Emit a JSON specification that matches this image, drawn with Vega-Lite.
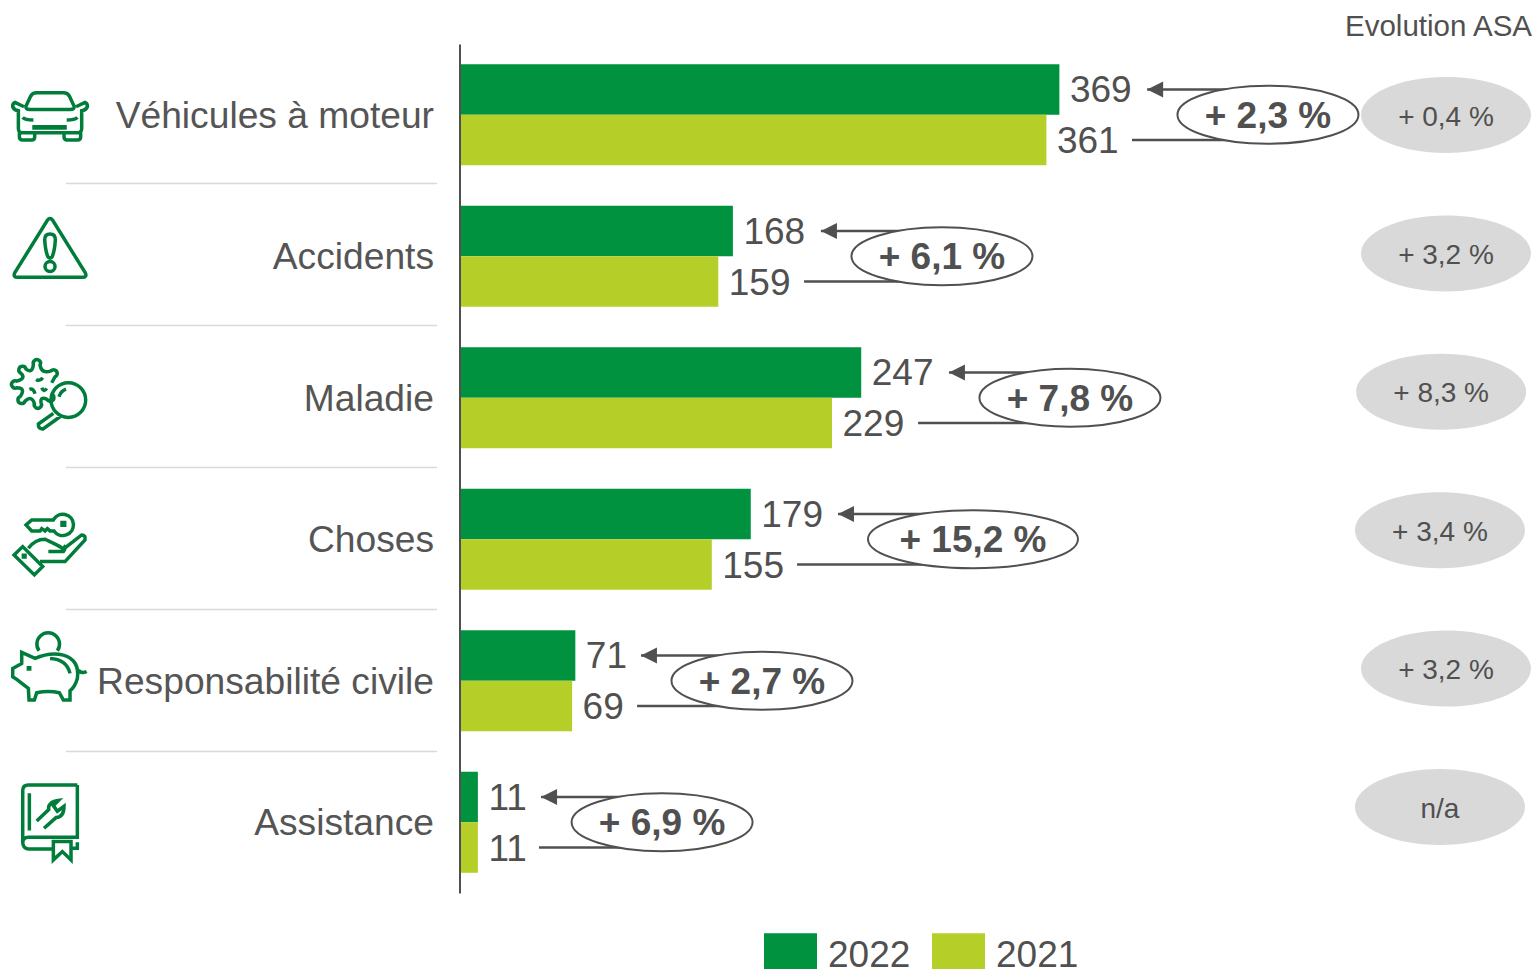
{
"$schema":"https://vega.github.io/schema/vega-lite/v6.json",
"width":1535,"height":969,"padding":0,"autosize":{"type":"none"},"background":"white",
"title":{"text":"Evolution ASA","anchor":"end","frame":"group","orient":"top","offset":-42,"dx":-3,"fontSize":29.5,"fontWeight":"normal","font":"Liberation Sans","color":"#505050"},
"config":{"view":{"stroke":null},"font":"Liberation Sans"},
"datasets":{
"bars":[
{"cat":"Véhicules à moteur","year":"2022","value":369,"lineStart":423,"bubble":497.4},
{"cat":"Véhicules à moteur","year":"2021","value":361,"lineStart":413.7,"bubble":497.4},
{"cat":"Accidents","year":"2022","value":168,"lineStart":222.2,"bubble":296.7},
{"cat":"Accidents","year":"2021","value":159,"lineStart":211.8,"bubble":296.7},
{"cat":"Maladie","year":"2022","value":247,"lineStart":301,"bubble":375.5},
{"cat":"Maladie","year":"2021","value":229,"lineStart":282,"bubble":375.5},
{"cat":"Choses","year":"2022","value":179,"lineStart":232.7,"bubble":315.8},
{"cat":"Choses","year":"2021","value":155,"lineStart":207.5,"bubble":315.8},
{"cat":"Responsabilité civile","year":"2022","value":71,"lineStart":111.4,"bubble":185.9},
{"cat":"Responsabilité civile","year":"2021","value":69,"lineStart":109,"bubble":185.9},
{"cat":"Assistance","year":"2022","value":11,"lineStart":49.9,"bubble":124.4},
{"cat":"Assistance","year":"2021","value":11,"lineStart":48.6,"bubble":124.4}
],
"rows":[
{"cat":"Véhicules à moteur","change":"+ 2,3 %","bubble":497.4,"asa":"+ 0,4 %","asaPos":607,"icon":-252.4},
{"cat":"Accidents","change":"+ 6,1 %","bubble":296.7,"asa":"+ 3,2 %","asaPos":607,"icon":-252.4},
{"cat":"Maladie","change":"+ 7,8 %","bubble":375.5,"asa":"+ 8,3 %","asaPos":604,"icon":-252.4},
{"cat":"Choses","change":"+ 15,2 %","bubble":315.8,"asa":"+ 3,4 %","asaPos":603.3,"icon":-252.4},
{"cat":"Responsabilité civile","change":"+ 2,7 %","bubble":185.9,"asa":"+ 3,2 %","asaPos":607,"icon":-252.4},
{"cat":"Assistance","change":"+ 6,9 %","bubble":124.4,"asa":"n/a","asaPos":603.3,"icon":-252.4}
],
"seps":[{"after":"a","from":-242.6,"to":-14.2},{"after":"b","from":-242.6,"to":-14.2},{"after":"c","from":-242.6,"to":-14.2},{"after":"d","from":-242.6,"to":-14.2},{"after":"e","from":-242.6,"to":-14.2}]
},
"resolve":{"scale":{"y":"independent","shape":"independent"},"axis":{"y":"independent"}},
"layer":[
{"data":{"name":"seps"},"mark":{"type":"rule","stroke":"#d9d9d9","strokeWidth":1.5},
 "encoding":{"x":{"field":"from","type":"quantitative","scale":{"domain":[-283.2,661.8],"nice":false,"zero":false},"axis":null},"x2":{"field":"to"},
 "y":{"field":"after","type":"nominal","sort":null,"scale":{"type":"point","domain":["a","b","c","d","e"],"range":[183.5,751.5],"padding":0},"axis":null}}},
{"data":{"name":"bars"},"mark":{"type":"bar"},
 "encoding":{"x":{"field":"value","type":"quantitative","scale":{"domain":[-283.2,661.8],"nice":false,"zero":false},"axis":null},
 "y":{"field":"cat","type":"nominal","sort":null,"scale":{"domain":["Véhicules à moteur","Accidents","Maladie","Choses","Responsabilité civile","Assistance"],"range":[44,893],"paddingInner":0,"paddingOuter":0},
   "axis":{"title":null,"orient":"left","offset":-459.5,"ticks":false,"labelPadding":26,"labelOffset":2,"labelFontSize":37.2,"labelColor":"#555555","labelLimit":600,"labelFont":"Liberation Sans","domainColor":"#505050","domainWidth":2,"grid":false,"zindex":1}},
 "yOffset":{"field":"year","type":"nominal","sort":null,"scale":{"domain":["2022","2021"],"paddingInner":0,"paddingOuter":0.4}},
 "color":{"field":"year","type":"nominal","sort":null,"scale":{"domain":["2022","2021"],"range":["#00923f","#b5cf28"]},
   "legend":{"title":null,"orient":"none","legendX":764,"legendY":929.5,"direction":"horizontal","columns":2,"symbolType":"M-1,-0.87H1V0.49H-1Z","symbolSize":2809,"symbolStrokeWidth":0,"symbolOpacity":1,"labelFontSize":37,"labelColor":"#505050","labelFont":"Liberation Sans","labelOffset":11,"columnPadding":21,"padding":0,"labelLimit":200}}}},
{"data":{"name":"bars"},"mark":{"type":"text","align":"left","baseline":"middle","dx":10.5,"dy":2,"fontSize":37,"fill":"#505050"},
 "encoding":{"x":{"field":"value","type":"quantitative","scale":{"domain":[-283.2,661.8],"nice":false,"zero":false},"axis":null},
 "y":{"field":"cat","type":"nominal","sort":null,"scale":{"domain":["Véhicules à moteur","Accidents","Maladie","Choses","Responsabilité civile","Assistance"],"range":[44,893],"paddingInner":0,"paddingOuter":0},"axis":null},
 "yOffset":{"field":"year","type":"nominal","sort":null,"scale":{"domain":["2022","2021"],"paddingInner":0,"paddingOuter":0.4}},
 "text":{"field":"value","type":"quantitative"}}},
{"data":{"name":"bars"},"mark":{"type":"rule","stroke":"#505050","strokeWidth":2.5},
 "encoding":{"x":{"field":"lineStart","type":"quantitative","scale":{"domain":[-283.2,661.8],"nice":false,"zero":false},"axis":null},"x2":{"field":"bubble"},
 "y":{"field":"cat","type":"nominal","sort":null,"scale":{"domain":["Véhicules à moteur","Accidents","Maladie","Choses","Responsabilité civile","Assistance"],"range":[44,893],"paddingInner":0,"paddingOuter":0},"axis":null},
 "yOffset":{"field":"year","type":"nominal","sort":null,"scale":{"domain":["2022","2021"],"paddingInner":0,"paddingOuter":0.4}}}},
{"data":{"name":"bars"},"transform":[{"filter":"datum.year === '2022'"}],"mark":{"type":"point","shape":"M0,0L16,-8L16,8Z","size":4,"filled":true,"fill":"#505050","opacity":1,"stroke":null},
 "encoding":{"x":{"field":"lineStart","type":"quantitative","scale":{"domain":[-283.2,661.8],"nice":false,"zero":false},"axis":null},
 "y":{"field":"cat","type":"nominal","sort":null,"scale":{"domain":["Véhicules à moteur","Accidents","Maladie","Choses","Responsabilité civile","Assistance"],"range":[44,893],"paddingInner":0,"paddingOuter":0},"axis":null},
 "yOffset":{"field":"year","type":"nominal","sort":null,"scale":{"domain":["2022","2021"],"paddingInner":0,"paddingOuter":0.4}}}},
{"data":{"name":"rows"},"transform":[{"filter":"datum.change !== '+ 15,2 %'"}],"mark":{"type":"point","shape":"M-90.5,0A90.5,29 0 1 0 90.5,0A90.5,29 0 1 0 -90.5,0Z","size":4,"filled":true,"fill":"white","opacity":1,"stroke":"#505050","strokeWidth":2},
 "encoding":{"x":{"field":"bubble","type":"quantitative","scale":{"domain":[-283.2,661.8],"nice":false,"zero":false},"axis":null},
 "y":{"field":"cat","type":"nominal","sort":null,"scale":{"domain":["Véhicules à moteur","Accidents","Maladie","Choses","Responsabilité civile","Assistance"],"range":[44,893],"paddingInner":0,"paddingOuter":0},"axis":null}}},
{"data":{"name":"rows"},"transform":[{"filter":"datum.change === '+ 15,2 %'"}],"mark":{"type":"point","shape":"M-105,0A105,29 0 1 0 105,0A105,29 0 1 0 -105,0Z","size":4,"filled":true,"fill":"white","opacity":1,"stroke":"#505050","strokeWidth":2},
 "encoding":{"x":{"field":"bubble","type":"quantitative","scale":{"domain":[-283.2,661.8],"nice":false,"zero":false},"axis":null},
 "y":{"field":"cat","type":"nominal","sort":null,"scale":{"domain":["Véhicules à moteur","Accidents","Maladie","Choses","Responsabilité civile","Assistance"],"range":[44,893],"paddingInner":0,"paddingOuter":0},"axis":null}}},
{"data":{"name":"rows"},"mark":{"type":"text","baseline":"middle","align":"center","fontSize":37,"fontWeight":"bold","fill":"#505050","dy":2},
 "encoding":{"x":{"field":"bubble","type":"quantitative","scale":{"domain":[-283.2,661.8],"nice":false,"zero":false},"axis":null},
 "y":{"field":"cat","type":"nominal","sort":null,"scale":{"domain":["Véhicules à moteur","Accidents","Maladie","Choses","Responsabilité civile","Assistance"],"range":[44,893],"paddingInner":0,"paddingOuter":0},"axis":null},
 "text":{"field":"change"}}},
{"data":{"name":"rows"},"mark":{"type":"point","shape":"M-85,0A85,38 0 1 0 85,0A85,38 0 1 0 -85,0Z","size":4,"filled":true,"fill":"#d9d9d9","opacity":1,"stroke":null},
 "encoding":{"x":{"field":"asaPos","type":"quantitative","scale":{"domain":[-283.2,661.8],"nice":false,"zero":false},"axis":null},
 "y":{"field":"cat","type":"nominal","sort":null,"scale":{"domain":["Véhicules à moteur","Accidents","Maladie","Choses","Responsabilité civile","Assistance"],"range":[45.8,876.2],"paddingInner":0,"paddingOuter":0},"axis":null}}},
{"data":{"name":"rows"},"mark":{"type":"text","baseline":"middle","align":"center","fontSize":28,"fill":"#505050","dy":2.5},
 "encoding":{"x":{"field":"asaPos","type":"quantitative","scale":{"domain":[-283.2,661.8],"nice":false,"zero":false},"axis":null},
 "y":{"field":"cat","type":"nominal","sort":null,"scale":{"domain":["Véhicules à moteur","Accidents","Maladie","Choses","Responsabilité civile","Assistance"],"range":[45.8,876.2],"paddingInner":0,"paddingOuter":0},"axis":null},
 "text":{"field":"asa"}}},
{"data":{"name":"rows"},"mark":{"type":"point","size":0.444,"filled":false,"fill":null,"stroke":"#007d3a","strokeWidth":3.5,"opacity":1},
 "encoding":{"x":{"field":"icon","type":"quantitative","scale":{"domain":[-283.2,661.8],"nice":false,"zero":false},"axis":null},
 "y":{"field":"cat","type":"nominal","sort":null,"scale":{"domain":["Véhicules à moteur","Accidents","Maladie","Choses","Responsabilité civile","Assistance"],"range":[44,893],"paddingInner":0,"paddingOuter":0},"axis":null},
 "shape":{"field":"cat","type":"nominal","legend":null,"scale":{"domain":["Véhicules à moteur","Accidents","Maladie","Choses","Responsabilité civile","Assistance"],"range":[
 "M-72,-26L-58,-56Q-53,-66 -40,-66H40Q53,-66 58,-56L72,-26Q75,-16 60,-16H-60Q-75,-16 -72,-26ZM-78,-24L-105,-37Q-113,-34 -112,-24Q-108,-14 -95,-12V41Q-95,54 -82,54H82Q95,54 95,41V-12Q108,-14 112,-24Q113,-34 105,-37L78,-24M-92,54V66Q-92,76 -82,76H-55Q-46,76 -46,66V54M42,54V66Q42,76 52,76H82Q92,76 92,66V54M-82,8Q-75,16 -50,16M82,8Q75,16 50,16M-48,36H45V40H-48Z",
 "M-8,-108Q0,-118 8,-108L106,50Q112,63 97,63H-97Q-112,63 -106,50ZM-16,-50Q-16,-67 0,-67Q16,-67 16,-50Q14,-15 6,2Q0,8 -6,2Q-14,-15 -16,-50ZM-15,31A15,15 0 1 0 15,31A15,15 0 1 0 -15,31Z",
 "M5,-45L15,-63A11,11 0 1 0 3,-81Q-25,-70 -30,-98A11,11 0 1 0 -50,-100Q-52,-72 -72,-86A11,11 0 1 0 -88,-74Q-70,-58 -100,-50A11,11 0 1 0 -100,-30Q-72,-30 -89,-4A11,11 0 1 0 -75,10Q-55,-8 -47,17A11,11 0 1 0 -27,15Q-30,-5 -9,5A11,11 0 1 0 3,-11M3,7A52,52 0 1 0 107,7A52,52 0 1 0 3,7ZM27,-3Q32,-20 48,-26M10,47L-35,79Q-36,92 -22,94L30,57M-42,-55Q-30,-48 -22,-60M-62,-25Q-50,-30 -45,-12M-25,-30Q-18,-15 -10,-28",
 "M10,-58H-55L-72,-43L-55,-25H-30L-25,-32L-15,-25L-8,-32L0,-25H12A32,32 0 1 0 10,-58ZM36,-50H44V-42H36ZM-108,47L-82,22L-22,82L-47,107ZM-80,48H-75V53H-80ZM-65,27Q-45,0 -15,0L20,17Q35,25 40,30L95,-13Q108,-13 105,2L45,67H-30M-5,37H40Q50,25 40,20",
 "M-33,-90A34,34 0 1 1 22,-90M-85,-85L-45,-67Q0,-87 40,-77Q90,-62 82,-7Q75,18 60,30L60,58H40L28,36Q-5,28 -40,36L-47,58H-63L-65,23Q-85,8 -100,-4L-112,-12V-37L-85,-52ZM85,-32Q95,-20 110,-28M-65,-39H-61V-35H-65ZM0,-67Q50,-65 60,-22",
 "M82,-112H-65Q-82,-112 -82,-95V58Q-82,80 -65,80H10M-82,62Q-82,45 -65,45H82V-112M82,60V78H66M-62,-87V25M10,58V113L37,88L63,113V58ZM-40,-4L-4,-38Q-8,-60 25,-65L10,-50L22,-33L42,-48Q42,-15 18,-14L-18,18"
 ]}}}}
]
}
